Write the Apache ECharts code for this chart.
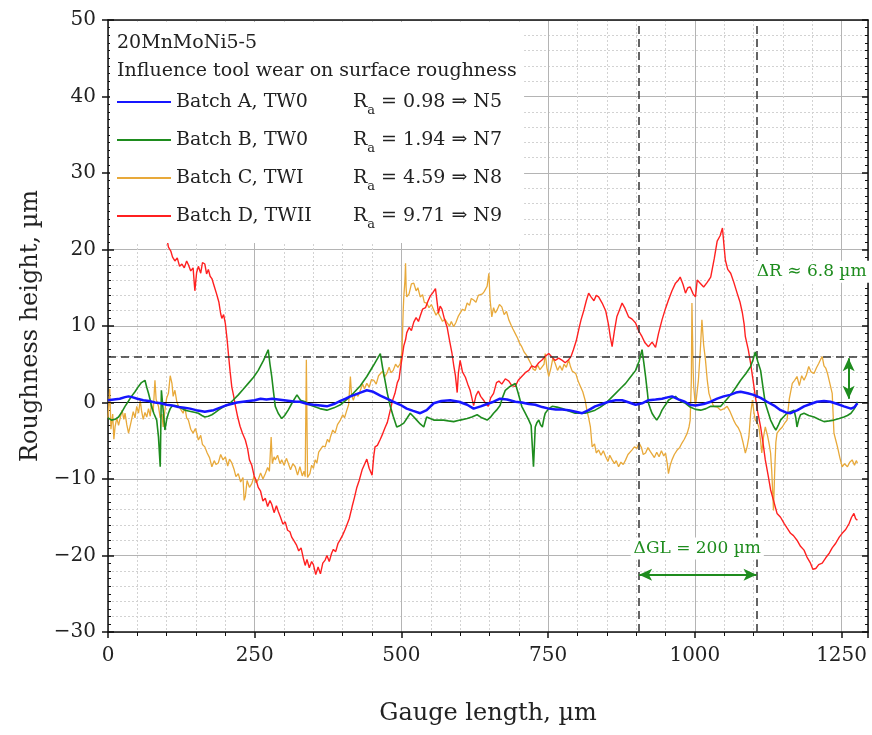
<!DOCTYPE html>
<html>
<head>
<meta charset="utf-8">
<script src="https://cdn.jsdelivr.net/npm/echarts@6/dist/echarts.min.js"></script>
<style>html,body{margin:0;padding:0;background:#fff}#c{width:872px;height:735px}</style>
</head>
<body>
<div id="c"></div>
<script>
// ---- data ----
const seriesNames = ['Batch A, TW0', 'Batch B, TW0', 'Batch C, TWI', 'Batch D, TWII'];
const raValues = ['0.98', '1.94', '4.59', '9.71'];
const nClasses = ['N5', 'N7', 'N8', 'N9'];
const xTicks = [0, 250, 500, 750, 1000, 1250];
const yTicks = [-30, -20, -10, 0, 10, 20, 30, 40, 50];
const titleLines = ['20MnMoNi5-5', 'Influence tool wear on surface roughness'];

const batchA = [[0,0.3],[10,0.4],[20,0.5],[29,0.7],[35,0.8],[41,0.7],[50,0.5],[60,0.3],[70,0.2],[80,0.0],[90,-0.1],[100,-0.3],[110,-0.4],[120,-0.6],[130,-0.7],[140,-0.8],[150,-1.0],[158,-1.1],[165,-1.2],[172,-1.1],[180,-1.0],[190,-0.7],[200,-0.4],[210,-0.2],[220,0.0],[230,0.1],[240,0.2],[250,0.3],[260,0.5],[270,0.4],[280,0.5],[290,0.4],[300,0.3],[310,0.2],[320,0.1],[327,0.1],[340,-0.2],[350,-0.3],[362,-0.4],[373,-0.5],[385,-0.2],[396,0.2],[405,0.5],[413,0.8],[420,1.0],[430,1.3],[441,1.6],[452,1.4],[464,0.9],[475,0.5],[486,0.1],[498,-0.3],[509,-0.8],[520,-1.1],[532,-1.4],[543,-1.0],[555,-0.1],[568,0.2],[583,0.3],[598,0.1],[612,-0.3],[623,-0.8],[635,-0.5],[646,-0.2],[657,0.1],[668,0.5],[680,0.4],[694,0.1],[705,0.0],[717,-0.2],[728,-0.3],[740,-0.6],[751,-0.8],[763,-0.9],[774,-0.9],[785,-1.0],[797,-1.2],[808,-1.4],[819,-1.0],[830,-0.5],[842,-0.2],[853,0.1],[865,0.3],[876,0.3],[888,0.0],[899,-0.3],[910,-0.1],[921,0.3],[933,0.4],[944,0.5],[955,0.7],[961,0.8],[972,0.4],[983,0.1],[992,-0.3],[1001,-0.4],[1015,-0.2],[1027,0.1],[1038,0.5],[1049,0.8],[1060,1.0],[1070,1.3],[1078,1.4],[1090,1.2],[1100,1.0],[1112,0.6],[1123,0.1],[1135,-0.4],[1146,-1.0],[1155,-1.3],[1163,-1.4],[1175,-1.0],[1186,-0.5],[1197,-0.2],[1208,0.1],[1220,0.2],[1231,0.1],[1243,-0.2],[1254,-0.5],[1266,-0.8],[1272,-0.6],[1277,-0.1]];

const batchB = [[0,-2.0],[6,-2.3],[12,-2.2],[18,-1.9],[24,-1.2],[29,-0.5],[35,0.2],[40,0.8],[46,1.4],[52,2.1],[57,2.6],[63,2.9],[66,2.0],[69,1.2],[72,0.3],[74,-0.5],[78,-1.4],[83,-2.3],[86,-4.5],[89,-8.4],[90,-3.0],[91,1.6],[94,-1.0],[97,-3.6],[100,-2.2],[103,-1.4],[106,-0.8],[109,-0.5],[114,-0.4],[120,-0.5],[126,-0.8],[131,-1.0],[137,-1.1],[143,-1.2],[149,-1.3],[154,-1.4],[160,-1.7],[165,-1.9],[171,-1.8],[177,-1.6],[183,-1.3],[188,-1.0],[196,-0.6],[205,-0.3],[213,0.3],[222,1.0],[230,1.7],[239,2.5],[248,3.3],[256,4.2],[265,5.5],[273,6.9],[276,5.0],[279,3.4],[282,1.4],[285,-0.5],[290,-1.4],[296,-2.1],[301,-1.7],[307,-1.0],[314,0.0],[322,1.0],[328,0.3],[336,0.1],[343,-0.3],[350,-0.5],[361,-0.8],[373,-1.0],[385,-0.7],[396,-0.3],[407,0.4],[418,1.2],[430,2.2],[441,3.4],[452,4.8],[464,6.4],[468,4.5],[472,2.9],[476,1.2],[481,-0.5],[486,-1.8],[492,-3.2],[498,-3.0],[504,-2.7],[510,-2.0],[515,-1.4],[520,-1.8],[526,-2.3],[532,-2.8],[538,-3.2],[543,-1.9],[549,-2.1],[555,-2.3],[563,-2.3],[572,-2.3],[580,-2.4],[589,-2.5],[600,-2.3],[612,-2.1],[620,-1.9],[629,-1.6],[637,-2.0],[646,-2.3],[652,-1.9],[657,-1.4],[662,-1.0],[668,-0.4],[672,0.6],[677,1.6],[685,2.1],[694,2.5],[699,1.2],[705,-0.5],[711,-1.4],[717,-2.3],[721,-3.0],[725,-8.4],[728,-3.2],[731,-2.6],[734,-2.3],[737,-2.9],[740,-3.2],[743,-2.0],[745,-1.4],[751,-0.8],[757,-0.5],[765,-0.6],[774,-0.8],[785,-1.1],[796,-1.4],[805,-1.4],[813,-1.4],[822,-1.2],[830,-1.0],[839,-0.6],[848,-0.1],[856,0.5],[865,1.2],[874,1.9],[882,2.5],[890,3.3],[899,4.2],[905,5.4],[910,6.9],[913,5.2],[916,3.4],[919,1.4],[921,-0.1],[924,-0.8],[927,-1.4],[931,-1.9],[935,-2.3],[940,-1.7],[944,-1.0],[950,-0.3],[955,0.3],[961,0.6],[967,0.8],[972,0.4],[978,0.1],[984,-0.1],[992,-0.6],[1001,-0.9],[1010,-1.0],[1019,-0.8],[1027,-0.5],[1036,-0.5],[1044,-0.5],[1052,0.2],[1061,1.0],[1070,2.0],[1078,2.9],[1087,3.8],[1095,4.7],[1099,5.6],[1103,6.6],[1107,5.4],[1112,4.2],[1116,2.0],[1120,-0.1],[1125,-1.3],[1129,-2.3],[1134,-3.1],[1138,-3.6],[1142,-3.0],[1146,-2.3],[1152,-1.8],[1157,-1.4],[1163,-1.2],[1169,-1.0],[1172,-2.0],[1174,-3.2],[1177,-2.2],[1180,-1.6],[1186,-1.4],[1194,-1.7],[1203,-1.9],[1211,-2.2],[1220,-2.5],[1229,-2.4],[1237,-2.3],[1246,-2.1],[1254,-1.9],[1260,-1.7],[1266,-1.4],[1271,-0.9],[1274,-0.5],[1277,0.1]];

const batchC = [[0,-2.0],[3,1.8],[5,-3.5],[8,-1.5],[10,-4.8],[12,-3.2],[15,-2.0],[18,-3.0],[20,-2.3],[24,-1.0],[27,-2.2],[29,-1.4],[32,-2.9],[35,-4.0],[38,-3.0],[40,-2.3],[43,-1.2],[46,-2.0],[49,-0.5],[52,-1.4],[55,0.3],[57,-1.0],[60,-2.2],[63,-1.3],[66,-1.9],[69,-0.8],[72,-1.8],[74,-0.1],[77,-1.2],[80,2.9],[82,0.4],[86,-0.5],[89,-2.0],[92,-1.5],[94,-3.2],[97,-1.0],[100,0.6],[103,1.2],[106,3.5],[109,2.5],[111,0.8],[114,1.6],[117,0.2],[120,-0.5],[124,-0.9],[128,-1.4],[131,-0.6],[134,-2.0],[137,-2.3],[141,-3.5],[145,-4.0],[149,-3.4],[154,-4.9],[158,-4.3],[161,-5.5],[165,-5.8],[169,-6.6],[173,-7.2],[177,-8.4],[181,-7.6],[184,-8.1],[188,-7.9],[192,-6.8],[196,-7.5],[200,-7.1],[204,-8.3],[207,-7.4],[211,-7.9],[215,-8.8],[218,-9.7],[222,-9.3],[226,-10.4],[230,-9.8],[232,-12.8],[234,-12.3],[237,-10.2],[241,-11.1],[245,-10.6],[249,-9.6],[252,-10.5],[256,-10.1],[260,-9.2],[264,-10.0],[268,-9.3],[272,-8.5],[275,-9.0],[278,-4.5],[280,-8.0],[283,-7.1],[285,-7.5],[289,-6.9],[293,-8.0],[296,-7.5],[300,-8.2],[304,-7.3],[307,-7.9],[311,-8.8],[315,-8.0],[319,-8.4],[323,-9.5],[327,-8.4],[331,-9.6],[334,-9.0],[336,-9.7],[338,5.6],[340,-9.8],[344,-9.3],[347,-8.2],[350,-8.6],[353,-7.5],[356,-7.9],[359,-6.5],[362,-6.6],[366,-5.7],[370,-5.8],[374,-4.8],[377,-5.2],[379,-4.5],[383,-3.6],[387,-4.0],[391,-2.9],[394,-3.0],[396,-2.3],[400,-1.6],[403,-2.0],[407,-1.0],[410,-0.3],[413,3.4],[415,1.0],[418,0.3],[422,1.2],[426,0.8],[430,1.6],[434,2.4],[437,1.8],[441,2.5],[445,2.0],[449,3.0],[453,2.9],[457,2.4],[461,3.5],[464,3.4],[468,4.1],[471,3.3],[475,3.8],[479,4.6],[482,3.9],[486,4.2],[490,5.0],[494,4.6],[498,5.1],[501,6.8],[503,12.0],[504,13.8],[506,16.0],[507,18.2],[508,15.0],[509,13.8],[513,14.2],[517,15.5],[521,15.6],[525,14.6],[528,15.0],[532,13.8],[536,14.1],[539,13.1],[543,13.0],[547,12.4],[551,12.8],[555,12.1],[559,11.4],[562,11.8],[566,11.2],[570,10.6],[574,10.9],[578,10.4],[582,10.0],[585,10.6],[589,9.9],[593,10.5],[597,11.3],[600,11.2],[604,12.2],[608,12.0],[612,13.0],[616,12.7],[619,13.6],[623,13.4],[627,13.1],[631,14.0],[634,13.8],[638,14.2],[641,14.5],[643,14.7],[646,15.2],[649,16.9],[651,13.5],[654,11.2],[657,12.4],[660,11.7],[663,12.1],[667,12.8],[671,12.5],[675,11.5],[679,11.9],[683,10.8],[687,10.1],[690,9.6],[694,9.0],[698,8.4],[701,7.8],[705,7.3],[709,6.6],[713,6.2],[717,5.6],[721,5.0],[724,4.4],[728,4.2],[732,4.9],[736,4.3],[740,4.7],[743,5.0],[745,6.4],[748,4.5],[751,3.4],[755,4.6],[758,5.8],[762,5.1],[766,4.2],[770,4.8],[774,4.2],[777,5.0],[781,4.6],[785,5.6],[788,4.7],[791,4.1],[794,4.3],[797,3.8],[801,2.8],[805,2.1],[809,1.4],[813,0.3],[816,-1.0],[819,-2.0],[822,-3.2],[825,-5.8],[829,-5.4],[832,-6.6],[836,-6.2],[840,-6.9],[844,-6.3],[848,-7.1],[852,-7.7],[855,-6.9],[859,-7.5],[863,-8.0],[866,-7.6],[870,-8.4],[874,-7.8],[878,-8.1],[882,-7.5],[886,-6.8],[889,-7.0],[893,-6.2],[897,-5.8],[901,-6.0],[905,-5.3],[909,-5.9],[912,-6.8],[916,-6.6],[920,-5.9],[924,-6.4],[927,-6.2],[931,-7.2],[935,-6.5],[939,-7.1],[943,-6.3],[947,-7.0],[950,-6.6],[953,-8.0],[955,-9.3],[958,-8.2],[961,-7.5],[965,-6.8],[970,-6.2],[974,-5.9],[978,-5.3],[982,-4.8],[987,-4.0],[990,-3.2],[992,-2.3],[994,3.0],[995,13.0],[997,4.5],[998,2.1],[1001,-0.5],[1004,1.5],[1006,2.9],[1009,6.5],[1012,10.8],[1015,7.5],[1018,5.6],[1021,3.0],[1024,1.2],[1028,0.2],[1032,-0.5],[1038,-0.6],[1044,-1.0],[1050,-0.8],[1055,-0.5],[1060,-1.2],[1066,-2.3],[1070,-2.9],[1074,-3.3],[1078,-4.0],[1082,-5.2],[1086,-6.6],[1089,-5.8],[1092,-4.5],[1095,-1.5],[1098,0.3],[1101,-1.5],[1103,-2.3],[1106,-2.6],[1109,-3.2],[1112,-5.0],[1114,-6.6],[1117,-4.5],[1120,-3.2],[1124,-4.4],[1127,-5.6],[1129,-6.6],[1131,-9.0],[1134,-14.1],[1136,-9.0],[1138,-5.2],[1140,-4.0],[1144,-3.6],[1149,-3.2],[1153,-2.7],[1157,-2.3],[1161,0.5],[1166,2.5],[1170,2.9],[1174,3.4],[1178,2.2],[1182,3.5],[1186,2.9],[1190,3.6],[1194,4.7],[1198,4.0],[1203,3.8],[1207,4.5],[1211,5.1],[1214,5.6],[1217,6.0],[1220,4.8],[1223,4.5],[1226,3.8],[1230,2.5],[1234,1.2],[1237,-4.0],[1240,-4.9],[1243,-5.8],[1247,-7.2],[1251,-8.4],[1255,-8.0],[1260,-8.4],[1264,-7.8],[1268,-7.5],[1272,-8.2],[1275,-7.6],[1277,-7.9]];

const batchD = [[92,22.4],[96,21.2],[100,21.6],[103,20.3],[107,19.8],[110,19.0],[114,18.5],[118,18.9],[122,17.8],[126,18.1],[130,17.6],[134,18.5],[137,18.0],[141,17.2],[145,17.6],[148,14.6],[151,17.0],[154,17.8],[158,16.9],[161,18.3],[165,18.1],[168,16.8],[171,17.4],[174,16.5],[177,16.2],[181,15.2],[185,14.2],[189,13.1],[192,11.6],[194,11.0],[197,11.5],[200,10.3],[203,8.2],[205,6.5],[208,4.1],[211,2.0],[214,0.9],[217,-0.4],[221,-1.9],[225,-3.1],[229,-4.0],[234,-4.9],[238,-6.1],[241,-7.5],[245,-8.2],[249,-9.6],[253,-10.3],[256,-11.1],[260,-11.6],[264,-12.9],[268,-12.5],[272,-13.6],[276,-12.8],[279,-13.3],[283,-14.4],[287,-13.5],[290,-14.2],[294,-15.0],[298,-15.9],[302,-15.6],[306,-16.7],[310,-16.9],[313,-17.6],[317,-18.1],[321,-18.6],[325,-19.4],[329,-19.0],[333,-20.4],[336,-21.3],[339,-20.5],[343,-21.6],[347,-20.8],[350,-21.2],[354,-22.5],[358,-21.5],[362,-22.4],[366,-21.0],[370,-20.6],[373,-20.0],[377,-20.8],[381,-19.7],[384,-19.2],[388,-19.5],[392,-18.4],[396,-17.9],[400,-17.3],[404,-16.6],[407,-16.0],[411,-15.2],[416,-13.6],[420,-12.4],[424,-11.1],[428,-10.2],[433,-8.8],[437,-8.1],[441,-7.4],[445,-8.6],[450,-9.5],[453,-6.9],[455,-5.8],[459,-5.6],[464,-4.8],[468,-4.1],[472,-3.3],[476,-2.6],[481,-1.0],[485,0.3],[489,1.2],[493,2.6],[496,3.1],[498,4.3],[501,5.8],[504,7.4],[507,8.2],[509,9.1],[513,9.8],[517,9.4],[521,10.5],[525,11.1],[529,10.6],[532,11.3],[536,12.2],[541,12.4],[545,13.2],[549,13.9],[553,14.3],[558,14.9],[561,13.0],[563,11.7],[566,12.6],[569,12.2],[573,11.0],[578,9.8],[582,8.1],[586,6.5],[589,4.9],[592,3.5],[595,1.3],[597,3.8],[600,5.5],[604,4.0],[609,3.3],[613,2.4],[617,1.6],[620,0.6],[623,-0.4],[627,0.9],[631,1.5],[635,0.8],[640,0.3],[644,-0.2],[648,-0.5],[652,0.6],[657,1.2],[662,2.6],[666,2.8],[671,2.4],[677,3.1],[683,2.8],[688,2.2],[694,2.1],[699,2.9],[705,3.4],[711,3.9],[717,4.2],[722,4.8],[728,4.6],[734,5.2],[740,5.6],[746,6.1],[751,6.4],[757,5.9],[762,5.5],[768,5.8],[774,5.5],[779,5.2],[785,5.6],[789,6.0],[793,6.9],[798,8.1],[802,9.5],[806,10.8],[811,12.1],[815,13.3],[819,14.3],[823,13.8],[828,13.3],[832,14.0],[836,13.8],[842,13.0],[848,12.0],[853,10.1],[856,8.5],[859,7.3],[863,9.4],[867,11.2],[871,12.0],[876,13.0],[881,12.3],[887,11.2],[893,10.9],[899,10.4],[904,9.4],[910,8.6],[915,7.8],[921,7.3],[927,7.9],[933,7.2],[938,9.0],[944,10.8],[950,12.3],[955,13.4],[961,14.6],[967,15.6],[971,15.9],[975,16.4],[980,15.4],[984,14.3],[988,15.0],[992,15.1],[997,14.2],[1001,13.8],[1004,16.0],[1009,15.6],[1015,15.1],[1021,15.7],[1027,16.4],[1033,18.8],[1038,21.1],[1043,21.8],[1047,22.8],[1050,20.2],[1052,18.6],[1056,17.4],[1061,16.9],[1066,15.8],[1072,14.3],[1077,13.1],[1081,11.7],[1084,10.2],[1086,8.6],[1091,6.9],[1095,5.1],[1099,3.0],[1103,0.8],[1107,-1.2],[1112,-3.2],[1116,-5.2],[1120,-7.5],[1125,-9.6],[1129,-11.4],[1134,-12.8],[1140,-14.5],[1146,-15.0],[1152,-15.8],[1157,-16.4],[1163,-17.1],[1168,-17.4],[1174,-18.0],[1180,-18.8],[1186,-19.3],[1191,-20.2],[1197,-21.0],[1201,-21.8],[1206,-21.7],[1211,-21.2],[1217,-21.0],[1223,-20.3],[1229,-19.7],[1234,-19.0],[1240,-18.4],[1246,-17.6],[1251,-17.1],[1257,-16.6],[1263,-15.8],[1267,-15.0],[1271,-14.5],[1274,-15.2],[1277,-15.4]];

// annotation values
const gaugeMarks = [905, 1105];
const roughLevel = 6.0;
const gaugeArrowY = -22.5;
const roughArrowX = 1262;
const roughArrowRange = [5.8, 0.5];
const labelDR = {x: 1199, y: 17.1, text: 'ΔR ≈ 6.8 µm'};
const labelDGL = {x: 1004, y: -19.1, text: 'ΔGL = 200 µm'};

// ---- styling ----
const FONT = 'DejaVu Serif';
const colors = ['#1616ff', '#1e8c1e', '#e8a93a', '#ff2020'];
const green = '#1e8c1e';
const datasets = [batchA, batchB, batchC, batchD];
const widths = [2.5, 1.6, 1.3, 1.4];
const zs = [6, 5, 3, 4];

const chart = echarts.init(document.getElementById('c'), null, {renderer: 'canvas'});

const xRange = {min: 0, max: 1295};
const yRange = {min: -30, max: 50};

const series = seriesNames.map((name, i) => ({
  name, type: 'line', data: datasets[i], xAxisIndex: 0, yAxisIndex: 0,
  showSymbol: false, symbol: 'none', z: zs[i], silent: true,
  lineStyle: {color: colors[i], width: widths[i]},
  itemStyle: {color: colors[i]}
}));

// reference lines on blue series
series[0].markLine = {
  silent: true, symbol: ['none', 'none'], animation: false,
  label: {show: false},
  data: [
    {yAxis: 0, lineStyle: {color: '#111', width: 1, type: 'solid'}},
    {yAxis: roughLevel, lineStyle: {color: '#333', width: 1.5, type: [8, 5]}},
    {xAxis: gaugeMarks[0], lineStyle: {color: '#333', width: 1.5, type: [8, 5]}},
    {xAxis: gaugeMarks[1], lineStyle: {color: '#333', width: 1.5, type: [8, 5]}}
  ]
};
// arrows + labels on green series
series[1].markLine = {
  silent: true, symbol: ['arrow', 'arrow'], symbolSize: [9, 13], animation: false,
  label: {show: false},
  lineStyle: {color: green, width: 2, type: 'solid'},
  data: [
    [{coord: [gaugeMarks[0], gaugeArrowY]}, {coord: [gaugeMarks[1], gaugeArrowY]}],
    [{coord: [roughArrowX, roughArrowRange[0]]}, {coord: [roughArrowX, roughArrowRange[1]]}]
  ]
};
series[1].markPoint = {
  silent: true, animation: false, symbol: 'rect', symbolSize: 1,
  itemStyle: {color: 'rgba(0,0,0,0)'},
  label: {show: true, position: 'inside', formatter: '{b}', color: green, fontFamily: FONT,
    fontSize: 17, backgroundColor: '#fff', padding: [3, 3, 2, 3]},
  data: [
    {name: labelDR.text, coord: [labelDR.x, labelDR.y]},
    {name: labelDGL.text, coord: [labelDGL.x, labelDGL.y]}
  ]
};

const axisLabelStyle = {fontFamily: FONT, fontSize: 20, color: '#222'};

const option = {
  animation: false,
  backgroundColor: '#fff',
  grid: {left: 108, right: 4, top: 20, bottom: 103, containLabel: false},
  title: {
    text: titleLines.join('\n'), left: 112, top: 24, z: 10,
    textStyle: {fontFamily: FONT, fontSize: 19, fontWeight: 'normal', color: '#222', lineHeight: 28}
  },
  legend: {
    data: seriesNames, orient: 'vertical', left: 110, top: 22, z: 8,
    padding: [70, 22, 12, 7], itemGap: 13, itemWidth: 54, itemHeight: 2, icon: 'rect',
    backgroundColor: '#fff', selectedMode: false,
    formatter: name => {
      const i = seriesNames.indexOf(name);
      return '{n|' + name + '}{r|R}{s|a}{t| = ' + raValues[i] + ' ⇒ ' + nClasses[i] + '}';
    },
    textStyle: {
      fontFamily: FONT, fontSize: 19, color: '#222', lineHeight: 20,
      rich: {
        n: {fontFamily: FONT, fontSize: 19, color: '#222', width: 177},
        r: {fontFamily: FONT, fontSize: 19, color: '#222'},
        s: {fontFamily: FONT, fontSize: 13, color: '#222', verticalAlign: 'bottom', padding: [0, 0, -5, 0]},
        t: {fontFamily: FONT, fontSize: 19, color: '#222'}
      }
    }
  },
  xAxis: [
    {
      type: 'value', position: 'bottom', ...xRange, interval: 250,
      name: 'Gauge length, µm', nameLocation: 'middle', nameGap: 70,
      nameTextStyle: {fontFamily: FONT, fontSize: 24, color: '#222'},
      axisLine: {show: true, onZero: false, lineStyle: {color: '#111', width: 1.5}},
      axisTick: {show: true, inside: false, length: 6, lineStyle: {color: '#111', width: 1.5}},
      minorTick: {show: true, splitNumber: 5, length: 4, lineStyle: {color: '#111', width: 1}},
      axisLabel: {...axisLabelStyle, margin: 14, formatter: v => xTicks.includes(v) ? String(v) : ''},
      splitLine: {show: true, lineStyle: {color: '#b4b4b4', width: 1}},
      minorSplitLine: {show: true, lineStyle: {color: '#d2d2d2', width: 1, type: [2, 2]}}
    },
    {
      type: 'value', position: 'top', ...xRange, interval: 250,
      axisLine: {show: true, onZero: false, lineStyle: {color: '#111', width: 1.5}},
      axisTick: {show: false}, axisLabel: {show: false}, splitLine: {show: false}
    }
  ],
  yAxis: [
    {
      type: 'value', position: 'left', ...yRange, interval: 10,
      name: 'Roughness height, µm', nameLocation: 'middle', nameGap: 62,
      nameTextStyle: {fontFamily: FONT, fontSize: 24, color: '#222'},
      axisLine: {show: true, onZero: false, lineStyle: {color: '#111', width: 1.5}},
      axisTick: {show: true, inside: false, length: 6, lineStyle: {color: '#111', width: 1.5}},
      axisLabel: {...axisLabelStyle, margin: 12, formatter: v => yTicks.includes(v) ? String(v).replace('-', '−') : ''},
      splitLine: {show: true, lineStyle: {color: '#b4b4b4', width: 1}},
      minorTick: {show: false},
      minorSplitLine: {show: true, lineStyle: {color: '#d2d2d2', width: 1, type: [2, 2]}}
    },
    {
      type: 'value', position: 'right', ...yRange, interval: 10,
      axisLine: {show: true, onZero: false, lineStyle: {color: '#111', width: 1.5}},
      axisTick: {show: true, inside: true, length: 6, lineStyle: {color: '#111', width: 1.5}},
      minorTick: {show: true, splitNumber: 10, length: 3, lineStyle: {color: '#111', width: 1}},
      axisLabel: {show: false}, splitLine: {show: false}
    },
    {
      type: 'value', position: 'left', offset: 0, ...yRange, interval: 10,
      axisLine: {show: false},
      axisTick: {show: true, inside: true, length: 6, lineStyle: {color: '#111', width: 1.5}},
      minorTick: {show: true, splitNumber: 10, length: 3, lineStyle: {color: '#111', width: 1}},
      axisLabel: {show: false}, splitLine: {show: false}
    }
  ],
  series
};
chart.setOption(option);
</script>
</body>
</html>
